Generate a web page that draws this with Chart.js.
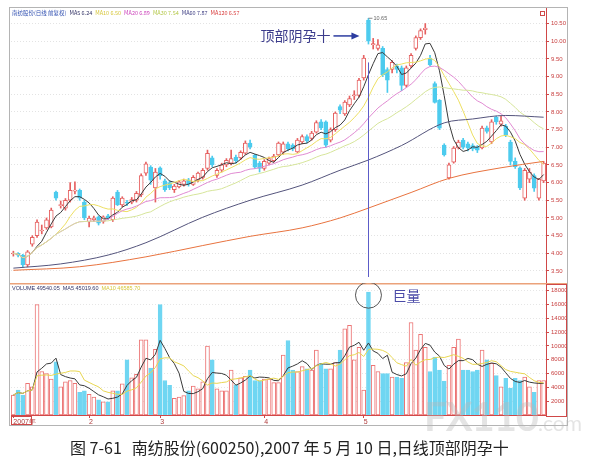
<!DOCTYPE html>
<html>
<head>
<meta charset="utf-8">
<script src="https://cdn.jsdelivr.net/npm/chart.js@4.4.1/dist/chart.umd.min.js"></script>
<style>
  body { margin:0; background:#fff; width:597px; height:463px; position:relative; overflow:hidden; font-family:"Noto Sans CJK SC", sans-serif; }
  #frame { position:absolute; left:9px; top:7px; width:557px; height:417px; border:1px solid #b4b4b4; }
  canvas { position:absolute; left:10px; }
  #price { top:8px; }
  #vol { top:283px; }
  #wm { position:absolute; left:424px; top:392px; color:rgba(185,185,185,0.38); font:bold 40px Lato, sans-serif; letter-spacing:-1px; }
  #wm span { font-size:21px; font-weight:normal; letter-spacing:0; }
  #cap { position:absolute; left:70px; top:435px; font-size:16px; color:#222; white-space:nowrap; }
  #cap b { font-weight:normal; margin-right:10px; }
</style>
</head>
<body>
<div id="frame"></div>
<canvas id="price" width="557" height="275"></canvas>
<canvas id="vol" width="557" height="142"></canvas>
<div id="wm">FX110<span>.com</span></div>
<div id="cap"><b>图 7-61</b>南纺股份(600250),2007 年 5 月 10 日,日线顶部阴孕十</div>

<script>
/* ═══════════════════════════════════════════
   南纺股份 日线 — 顶部阴孕十
   ═══════════════════════════════════════════ */

// ─── 交易日 (2007) ───
var dates = [
  '01-10','01-11','01-12','01-15','01-16','01-17','01-18','01-19','01-22','01-23','01-24','01-25','01-26','01-29','01-30','01-31',
  '02-01','02-02','02-05','02-06','02-07','02-08','02-09','02-12','02-13','02-14','02-15','02-16','02-26','02-27','02-28',
  '03-01','03-02','03-05','03-06','03-07','03-08','03-09','03-12','03-13','03-14','03-15','03-16','03-19','03-20','03-21','03-22','03-23','03-26','03-27','03-28','03-29','03-30',
  '04-02','04-03','04-04','04-05','04-06','04-09','04-10','04-11','04-12','04-13','04-16','04-17','04-18','04-19','04-20','04-23','04-24','04-25','04-26','04-27','04-30',
  '05-08','05-09','05-10','05-11','05-14','05-15','05-16','05-17','05-18','05-21','05-22','05-23','05-24','05-25','05-28','05-29','05-30','05-31',
  '06-01','06-04','06-05','06-06','06-07','06-08','06-11','06-12','06-13','06-14','06-15','06-18','06-19','06-20','06-21','06-22','06-25','06-26','06-27','06-28','06-29'
];
var monthTicks = { '01-10': '2007年', '02-01': '2', '03-01': '3', '04-02': '4', '05-08': '5' };

// ─── K线 ───
var opens = [
  3.98,4.00,3.95,3.67,4.26,4.50,4.63,4.72,4.75,5.73,
  5.35,5.28,5.50,5.76,5.78,5.45,4.89,4.95,5.03,4.90,
  5.06,4.95,5.73,5.37,5.45,5.45,5.50,5.65,6.27,6.44,
  5.85,6.42,6.05,6.00,5.80,5.88,5.95,6.08,5.95,6.07,
  6.15,6.40,6.70,6.20,6.35,6.50,6.55,6.72,6.70,6.83,
  7.12,6.78,6.55,6.40,6.55,6.62,6.78,6.86,7.10,7.06,
  6.87,7.15,7.30,7.25,7.43,7.72,7.72,7.20,7.50,8.15,
  7.94,8.20,8.45,8.47,8.96,10.60,9.90,9.80,9.80,9.20,
  9.20,9.30,9.25,8.75,9.30,9.80,10.10,10.33,9.52,8.80,
  8.33,7.06,6.13,6.58,6.98,7.20,7.10,7.05,7.00,6.98,
  7.55,7.15,7.85,7.65,7.60,7.15,6.60,6.42,5.56,6.10,
  6.20,5.56,6.05
];
var highs = [
  4.06,4.02,3.97,4.08,4.50,4.95,4.80,5.00,5.28,5.76,
  5.48,5.55,6.00,6.02,5.82,5.50,5.05,5.05,5.06,5.06,
  5.10,5.60,5.78,5.60,5.50,5.58,5.75,6.25,6.58,6.48,
  6.40,6.45,6.10,6.05,5.95,6.06,6.10,6.12,6.20,6.30,
  6.40,6.92,6.75,6.40,6.55,6.68,6.92,6.78,6.90,7.18,
  7.20,6.80,6.60,6.65,6.72,6.80,7.15,7.15,7.15,7.10,
  7.25,7.35,7.35,7.45,7.75,7.78,7.75,7.55,8.00,8.20,
  8.32,8.45,8.60,8.95,9.60,10.65,10.08,10.05,9.85,9.25,
  9.45,9.35,9.30,9.30,9.65,10.15,10.35,10.50,9.60,8.85,
  8.35,7.10,6.55,7.02,7.20,7.25,7.15,7.10,7.05,7.60,
  7.60,7.78,7.88,7.88,7.65,7.20,6.70,6.45,6.40,6.40,
  6.25,6.12,6.60
];
var lows = [
  3.92,3.90,3.60,3.62,4.20,4.45,4.55,4.68,4.72,5.50,
  5.28,5.22,5.45,5.68,5.50,4.95,4.75,4.90,4.80,4.85,
  4.95,4.90,5.35,5.32,5.35,5.40,5.45,5.60,6.20,5.95,
  5.45,6.10,5.75,5.80,5.72,5.85,5.90,5.90,5.92,6.02,
  6.10,6.35,6.45,6.15,6.30,6.45,6.50,6.55,6.65,6.80,
  6.95,6.40,6.30,6.35,6.50,6.58,6.75,6.80,6.90,6.90,
  6.85,7.10,7.12,7.20,7.40,7.50,7.00,7.15,7.45,7.95,
  7.90,8.15,8.35,8.42,8.90,9.92,9.78,9.75,9.00,8.55,
  9.10,9.10,8.60,8.70,9.25,9.75,10.05,10.20,9.30,8.25,
  7.50,6.75,6.10,6.55,6.95,6.95,6.90,6.90,6.85,6.95,
  7.40,7.10,7.65,7.60,7.30,6.50,6.40,5.80,5.50,6.00,
  5.75,5.50,6.00
];
var closes = [
  4.00,3.95,3.67,4.04,4.45,4.88,4.66,4.95,5.22,5.56,
  5.38,5.50,5.78,5.79,5.56,5.00,5.00,5.00,4.85,5.03,
  5.00,5.56,5.37,5.56,5.42,5.52,5.70,6.20,6.53,6.07,
  6.30,6.20,5.80,5.85,5.90,6.02,6.05,5.96,6.15,6.27,
  6.35,6.83,6.50,6.35,6.50,6.63,6.68,6.62,6.86,7.12,
  7.00,6.44,6.40,6.60,6.68,6.75,7.12,7.10,6.95,6.95,
  7.20,7.30,7.18,7.40,7.70,7.55,7.06,7.50,7.97,8.05,
  8.28,8.38,8.48,8.90,9.52,10.00,9.93,9.90,9.05,8.90,
  9.40,9.20,8.75,9.25,9.60,10.10,10.30,10.37,9.33,8.27,
  7.54,6.78,6.50,6.98,7.15,7.00,6.98,6.95,6.92,7.54,
  7.45,7.72,7.72,7.75,7.35,6.60,6.45,5.85,6.35,6.30,
  5.84,6.10,6.55
];

// ─── 成交量 ───
var volumes = [
  2900,3600,2900,4600,4100,16000,6300,6000,5200,7700,
  4100,4800,5000,4600,3300,3500,3000,2600,2200,1900,
  1900,3500,3500,4500,8000,5400,5900,10900,10900,6800,
  9500,16000,5000,4300,2400,2600,2800,3500,4200,3800,
  4800,10000,8000,3800,3500,3500,6500,4300,5400,5600,
  6500,5000,5000,5200,5200,4700,4700,8700,10800,6500,
  6300,7000,6700,6500,9400,7500,6700,6700,7600,9400,
  12500,13000,8000,9800,3600,17800,7200,6300,6000,6000,
  5500,5500,5300,7600,13400,9400,11700,9800,6300,8400,
  6500,4900,7200,9800,11000,6500,6500,6300,6500,9400,
  8000,7500,5700,4100,5300,3900,5300,5000,5500,4100,
  3300,5000,5000
];

// ─── 长期均线 (读自图上的点) ───
var ma60Idx  = [0, 10, 20, 28, 40, 50, 61, 69, 75, 82, 91, 97, 104, 112];
var ma60Val  = [3.58, 3.70, 3.95, 4.30, 5.02, 5.50, 5.93, 6.35, 6.64, 7.05, 7.69, 7.80, 7.90, 7.85];
var ma120Idx = [0, 14, 28, 40, 50, 61, 69, 75, 84, 92, 103, 112];
var ma120Val = [3.52, 3.62, 3.90, 4.22, 4.48, 4.72, 5.00, 5.28, 5.72, 6.12, 6.42, 6.60];

// ─── 刻度 / 图例文字 ───
var priceTicks = [3.5, 4.0, 4.5, 5.0, 5.5, 6.0, 6.5, 7.0, 7.5, 8.0, 8.5, 9.0, 9.5, 10.0, 10.5];
var volTicks = [2000, 4000, 6000, 8000, 10000, 12000, 14000, 16000, 18000];
var priceLegend = ['南纺股份(日线 前复权)', 'MA5 6.24', 'MA10 6.50', 'MA20 6.89', 'MA30 7.54', 'MA60 7.87', 'MA120 6.57'];
var volLegend = ['VOLUME 49540.05', 'MA5 45019.60', 'MA10 46585.70'];
var peakIdx = 75;

// ─── 样式 ───
var UP = '#e66060', DOWN = '#4ccbee';
var VUP = '#ec7474', VDOWN = '#6fd6f2';
var AXIS = '#d04848';
var priceLegendColors = ['#2d4db0', '#333366', '#d6c63a', '#cc44bb', '#b4c84a', '#3a3a80', '#d83a3a'];
var volLegendColors = ['#333366', '#333366', '#d6c63a'];

Chart.defaults.font.family = '"Liberation Sans", sans-serif';
Chart.defaults.animation = false;

function isUp(i) { return closes[i] >= opens[i]; }

function movingAvg(arr, n) {
  return arr.map(function (_, i) {
    var s = arr.slice(Math.max(0, i - n + 1), i + 1);
    return s.reduce(function (a, b) { return a + b; }, 0) / s.length;
  });
}

function sparse(idx, vals) {
  return idx.map(function (k, j) { return { x: dates[k], y: vals[j] }; });
}

function lineDs(data, color, extra) {
  return Object.assign({
    type: 'line', data: data, borderColor: color, borderWidth: 1,
    pointRadius: 0, fill: false, order: 0
  }, extra || {});
}

function fixY(width) {
  return function (s) { s.width = width; s.paddingTop = 0; s.paddingBottom = 0; };
}

var smooth = { cubicInterpolationMode: 'monotone' };

// ─── 主图 ───
new Chart(document.getElementById('price'), {
  data: {
    labels: dates,
    datasets: [
      {
        type: 'bar', order: 2, grouped: false, barThickness: 1,
        data: lows.map(function (l, i) { return [l, highs[i]]; }),
        backgroundColor: dates.map(function (d, i) { return isUp(i) ? UP : DOWN; })
      },
      {
        type: 'bar', order: 1, grouped: false, barThickness: 4, minBarLength: 1,
        borderWidth: 1, borderSkipped: false,
        data: opens.map(function (o, i) { return [o, closes[i]]; }),
        backgroundColor: dates.map(function (d, i) { return isUp(i) ? '#ffffff' : DOWN; }),
        borderColor: dates.map(function (d, i) { return isUp(i) ? UP : DOWN; })
      },
      lineDs(sparse(ma120Idx, ma120Val), '#e8733f', smooth),
      lineDs(sparse(ma60Idx, ma60Val), '#54547c', smooth),
      lineDs(movingAvg(closes, 30), '#d6e59a'),
      lineDs(movingAvg(closes, 20), '#e08ad2'),
      lineDs(movingAvg(closes, 10), '#eddf62'),
      lineDs(movingAvg(closes, 5), '#3a3a3a')
    ]
  },
  options: {
    responsive: false,
    layout: { padding: { left: 1, right: 0, top: 0, bottom: 0 } },
    plugins: { legend: { display: false }, tooltip: { enabled: false } },
    scales: {
      x: { type: 'category', offset: true, display: false },
      y: {
        position: 'right', min: 3.16, max: 10.94,
        afterBuildTicks: function (s) { s.ticks = priceTicks.map(function (v) { return { value: v }; }); },
        afterFit: fixY(21),
        ticks: { color: '#c84040', font: { size: 6 }, padding: 2, callback: function (v) { return v.toFixed(2); } },
        grid: { color: '#e3e3e3', tickColor: AXIS, tickLength: 3 },
        border: { color: AXIS, dash: [1, 2] }
      }
    }
  },
  plugins: [{
    id: 'priceNotes',
    afterDraw: function (c) {
      var ctx = c.ctx, a = c.chartArea, xs = c.scales.x, ys = c.scales.y;
      var px = xs.getPixelForValue(peakIdx);
      ctx.save();

      // 图例
      ctx.font = '5.5px "Noto Sans CJK SC"';
      ctx.textBaseline = 'middle';
      var lx = a.left + 1;
      priceLegend.forEach(function (t, j) {
        ctx.fillStyle = priceLegendColors[j];
        ctx.fillText(t, lx, 5);
        lx += ctx.measureText(t).width + 3;
      });

      // 右上角小框
      ctx.strokeStyle = AXIS; ctx.lineWidth = 1;
      ctx.strokeRect(a.right - 5.5, 3.5, 4, 4);

      // 竖线
      var vx = Math.round(px) + 0.5;
      ctx.strokeStyle = '#5c5cc8';
      ctx.beginPath();
      ctx.moveTo(vx, ys.getPixelForValue(9.4));
      ctx.lineTo(vx, a.bottom - 6);
      ctx.stroke();

      // 最高价
      var hy = ys.getPixelForValue(highs[peakIdx]);
      ctx.strokeStyle = '#888';
      ctx.beginPath(); ctx.moveTo(px, hy); ctx.lineTo(px + 4, hy); ctx.stroke();
      ctx.fillStyle = '#666';
      ctx.font = '5.5px "Liberation Sans"';
      ctx.fillText(highs[peakIdx].toFixed(2), px + 5, hy);

      // 标注 + 箭头
      var ay = ys.getPixelForValue(10.15);
      ctx.font = '14px "Noto Sans CJK SC"';
      ctx.fillStyle = '#3c3c8c';
      ctx.textAlign = 'right';
      ctx.fillText('顶部阴孕十', px - 38, ay);
      ctx.strokeStyle = '#2c3ca0'; ctx.lineWidth = 1.5;
      ctx.beginPath(); ctx.moveTo(px - 35, ay); ctx.lineTo(px - 14, ay); ctx.stroke();
      ctx.fillStyle = '#2c3ca0';
      ctx.beginPath();
      ctx.moveTo(px - 9, ay); ctx.lineTo(px - 17, ay - 3.5); ctx.lineTo(px - 17, ay + 3.5);
      ctx.closePath(); ctx.fill();

      ctx.restore();
    }
  }]
});

// ─── 成交量 ───
new Chart(document.getElementById('vol'), {
  data: {
    labels: dates,
    datasets: [
      {
        type: 'bar', order: 1, grouped: false, barThickness: 4,
        borderWidth: 1, borderSkipped: false,
        data: volumes,
        backgroundColor: dates.map(function (d, i) { return isUp(i) ? '#ffffff' : VDOWN; }),
        borderColor: dates.map(function (d, i) { return isUp(i) ? VUP : VDOWN; })
      },
      lineDs(movingAvg(volumes, 10), '#e8d650'),
      lineDs(movingAvg(volumes, 5), '#3a3a3a')
    ]
  },
  options: {
    responsive: false,
    layout: { padding: { left: 1, right: 0, top: 0, bottom: 0 } },
    plugins: { legend: { display: false }, tooltip: { enabled: false } },
    scales: {
      x: {
        type: 'category', offset: true, position: 'bottom',
        afterFit: function (s) { s.height = 10; s.paddingLeft = 0; s.paddingRight = 0; },
        ticks: {
          autoSkip: false, maxRotation: 0, minRotation: 0, align: 'start', padding: 0,
          color: '#b03c3c', font: { size: 7 },
          callback: function (v, i) { return monthTicks[dates[i]] || ''; }
        },
        grid: {
          offset: false, drawOnChartArea: false, tickLength: 3,
          color: function (ctx) { return monthTicks[dates[ctx.index]] ? AXIS : 'rgba(0,0,0,0)'; }
        },
        border: { color: AXIS }
      },
      y: {
        position: 'right', min: 0, max: 19130,
        afterBuildTicks: function (s) { s.ticks = volTicks.map(function (v) { return { value: v }; }); },
        afterFit: fixY(21),
        ticks: { color: '#c84040', font: { size: 6 }, padding: 2, callback: function (v) { return String(v); } },
        grid: { color: '#e6e6e6', tickColor: AXIS, tickLength: 3 },
        border: { color: AXIS, dash: [1, 2] }
      }
    }
  },
  plugins: [{
    id: 'volNotes',
    afterDraw: function (c) {
      var ctx = c.ctx, a = c.chartArea, xs = c.scales.x, ys = c.scales.y;
      ctx.save();

      // 与主图的分隔线
      ctx.strokeStyle = '#eba27a'; ctx.lineWidth = 1.5;
      ctx.beginPath(); ctx.moveTo(0, 0.75); ctx.lineTo(c.width, 0.75); ctx.stroke();

      // 右侧刻度框
      ctx.strokeStyle = AXIS; ctx.lineWidth = 1;
      ctx.strokeRect(a.right + 0.5, 1.5, c.width - a.right - 1, a.bottom);
      ctx.strokeRect(a.left + 0.5, a.bottom + 1.5, 20, 8);

      // 图例
      ctx.font = '5.5px "Liberation Sans"';
      ctx.textBaseline = 'middle';
      var lx = a.left + 1;
      volLegend.forEach(function (t, j) {
        ctx.fillStyle = volLegendColors[j];
        ctx.fillText(t, lx, 5);
        lx += ctx.measureText(t).width + 3;
      });

      // 巨量
      var px = xs.getPixelForValue(peakIdx);
      var py = ys.getPixelForValue(volumes[peakIdx]);
      ctx.strokeStyle = '#555';
      ctx.beginPath(); ctx.arc(px, py + 3, 13, 0, Math.PI * 2); ctx.stroke();
      ctx.fillStyle = '#4b4ba8';
      ctx.font = '14px "Noto Sans CJK SC"';
      ctx.fillText('巨量', px + 24, py + 4);

      ctx.restore();
    }
  }]
});
</script>
</body>
</html>
